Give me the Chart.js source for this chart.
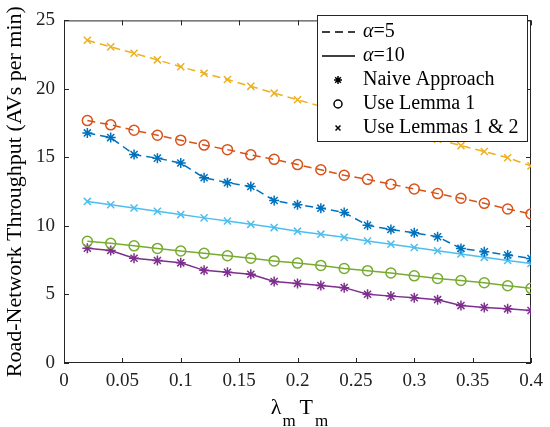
<!DOCTYPE html>
<html>
<head>
<meta charset="utf-8">
<script src="https://cdn.jsdelivr.net/npm/chart.js@4"></script>
<style>
  html, body { margin: 0; padding: 0; background: #fff; }
  #wrap { width: 550px; height: 427px; }
</style>
</head>
<body>
<div id="wrap"><canvas id="chart" width="550" height="427"></canvas></div>
<script>
// x values (lambda_m * T_m)
const xVals = [0.02, 0.04, 0.06, 0.08, 0.10, 0.12, 0.14, 0.16, 0.18, 0.20,
               0.22, 0.24, 0.26, 0.28, 0.30, 0.32, 0.34, 0.36, 0.38, 0.40];

// alpha = 5 (dashed)
const naiveA5  = [16.79, 16.45, 15.21, 14.95, 14.59, 13.52, 13.16, 12.88, 11.86, 11.55,
                  11.30, 10.98, 10.05, 9.74, 9.50, 9.21, 8.36, 8.12, 7.88, 7.62];
const lemma1A5 = [17.69, 17.38, 16.98, 16.62, 16.26, 15.90, 15.57, 15.19, 14.86, 14.48,
                  14.10, 13.70, 13.40, 13.05, 12.70, 12.36, 12.02, 11.65, 11.24, 10.88];
const lemma12A5 = [23.55, 23.07, 22.60, 22.12, 21.62, 21.14, 20.69, 20.19, 19.69, 19.21,
                   18.73, 18.26, 17.79, 17.32, 16.83, 16.33, 15.86, 15.43, 14.98, 14.38];

// alpha = 10 (solid)
const naiveA10  = [8.38, 8.21, 7.64, 7.48, 7.31, 6.76, 6.62, 6.48, 5.95, 5.81,
                   5.65, 5.50, 5.02, 4.88, 4.76, 4.62, 4.19, 4.05, 3.95, 3.83];
const lemma1A10 = [8.88, 8.74, 8.55, 8.36, 8.17, 8.00, 7.83, 7.64, 7.45, 7.29,
                   7.12, 6.90, 6.74, 6.57, 6.36, 6.17, 6.02, 5.86, 5.64, 5.45];
const lemma12A10 = [11.79, 11.55, 11.31, 11.07, 10.83, 10.59, 10.36, 10.12, 9.88, 9.62,
                    9.40, 9.17, 8.90, 8.67, 8.43, 8.19, 7.95, 7.71, 7.48, 7.26];

const xTickVals = [0, 0.05, 0.1, 0.15, 0.2, 0.25, 0.3, 0.35, 0.4];
const yTickVals = [0, 5, 10, 15, 20, 25];
const legendLabels = ["=5", "=10", "Naive Approach", "Use Lemma 1", "Use Lemmas 1 & 2"];

const SERIF = "'Liberation Serif', 'Times New Roman', serif";
const AXIS_COLOR = "#262626";

const toPts = (ys) => ys.map((y, i) => ({ x: xVals[i], y: y }));

const makeSet = (ys, color, marker, dashed) => ({
    data: toPts(ys),
    borderColor: color,
    backgroundColor: "rgba(0,0,0,0)",
    borderWidth: 1.5,
    borderDash: dashed ? [8, 5] : [],
    pointStyle: marker,
    pointRadius: 5,
    pointBorderWidth: 1.5,
    pointBorderColor: color,
    pointBackgroundColor: "rgba(0,0,0,0)",
    tension: 0,
});

// box + inward ticks on all four sides (MATLAB look)
const boxPlugin = {
    id: "box",
    beforeDatasetsDraw(chart) {
        const { ctx, chartArea: a, scales } = chart;
        ctx.save();
        ctx.strokeStyle = AXIS_COLOR;
        ctx.lineWidth = 1;
        ctx.strokeRect(a.left + 0.5, a.top + 0.5, a.right - a.left - 1, a.bottom - a.top - 1);
        ctx.beginPath();
        xTickVals.forEach((v) => {
            const px = Math.round(scales.x.getPixelForValue(v)) + 0.5;
            ctx.moveTo(px, a.bottom); ctx.lineTo(px, a.bottom - 5);
            ctx.moveTo(px, a.top); ctx.lineTo(px, a.top + 5);
        });
        yTickVals.forEach((v) => {
            const py = Math.round(scales.y.getPixelForValue(v)) + 0.5;
            ctx.moveTo(a.left, py); ctx.lineTo(a.left + 5, py);
            ctx.moveTo(a.right, py); ctx.lineTo(a.right - 5, py);
        });
        ctx.stroke();
        ctx.restore();
    },
    afterDraw(chart) {
        const { ctx, chartArea: a } = chart;
        ctx.save();
        // x axis label: lambda_m T_m
        const big = "22px " + SERIF, small = "17px " + SERIF;
        ctx.fillStyle = "#000";
        ctx.textBaseline = "alphabetic";
        ctx.textAlign = "left";
        ctx.font = big;
        const wL = ctx.measureText("λ").width, wT = ctx.measureText("T").width;
        ctx.font = small;
        const wm = ctx.measureText("m").width;
        const total = wL + 1 + wm + 4 + wT + 2 + wm;
        let x = (a.left + a.right) / 2 + 2 - total / 2;
        const base = 414;
        ctx.font = big; ctx.fillText("λ", x, base); x += wL + 1;
        ctx.font = small; ctx.fillText("m", x, base + 12); x += wm + 4;
        ctx.font = big; ctx.fillText("T", x, base); x += wT + 2;
        ctx.font = small; ctx.fillText("m", x, base + 12);

        // legend
        const lx = 317.5, ly = 15.5, lw = 210, lh = 126;
        ctx.fillStyle = "#fff";
        ctx.fillRect(lx, ly, lw, lh);
        ctx.strokeStyle = AXIS_COLOR;
        ctx.lineWidth = 1;
        ctx.strokeRect(lx, ly, lw, lh);

        const rows = [32, 56, 80, 104, 128];
        ctx.strokeStyle = "#000";
        ctx.lineWidth = 1.5;
        // dashed sample
        ctx.beginPath();
        ctx.setLineDash([8, 5]);
        ctx.moveTo(322, rows[0]); ctx.lineTo(355, rows[0]);
        ctx.stroke();
        ctx.setLineDash([]);
        ctx.beginPath();
        ctx.moveTo(322, rows[1]); ctx.lineTo(355, rows[1]);
        ctx.stroke();
        // marker samples
        const opts = { radius: 4, borderWidth: 1.5, borderColor: "#000", backgroundColor: "rgba(0,0,0,0)" };
        Chart.helpers.drawPoint(ctx, Object.assign({}, opts, { pointStyle: "star" }), 338, rows[2]);
        Chart.helpers.drawPoint(ctx, Object.assign({}, opts, { pointStyle: "circle" }), 338, rows[3]);
        Chart.helpers.drawPoint(ctx, Object.assign({}, opts, { pointStyle: "crossRot", radius: 3.5 }), 338, rows[4]);

        ctx.fillStyle = "#000";
        ctx.textBaseline = "middle";
        const tx = 363;
        [0, 1].forEach((i) => {
            ctx.font = "italic 20px " + SERIF;
            ctx.fillText("α", tx, rows[i]);
            const wa = ctx.measureText("α").width;
            ctx.font = "20px " + SERIF;
            ctx.fillText(legendLabels[i], tx + wa, rows[i]);
        });
        ctx.font = "20px " + SERIF;
        for (let i = 2; i < 5; i++) ctx.fillText(legendLabels[i], tx, rows[i]);
        ctx.restore();
    },
};

new Chart(document.getElementById("chart"), {
    type: "line",
    data: {
        datasets: [
            makeSet(lemma12A5, "#EDB120", "crossRot", true),
            makeSet(lemma1A5, "#D95319", "circle", true),
            makeSet(naiveA5, "#0072BD", "star", true),
            makeSet(lemma12A10, "#4DBEEE", "crossRot", false),
            makeSet(lemma1A10, "#77AC30", "circle", false),
            makeSet(naiveA10, "#7E2F8E", "star", false),
        ],
    },
    options: {
        responsive: false,
        animation: false,
        layout: { padding: { left: 0, top: 13, right: 19, bottom: 0 } },
        plugins: { legend: { display: false }, tooltip: { enabled: false } },
        scales: {
            x: {
                type: "linear",
                min: 0,
                max: 0.4,
                afterFit: (s) => { s.height = 64; },
                afterBuildTicks: (s) => { s.ticks = xTickVals.map((v) => ({ value: v })); },
                grid: { display: false, drawTicks: false },
                border: { display: false },
                ticks: {
                    padding: 7,
                    color: "#222",
                    font: { family: SERIF, size: 19 },
                    maxRotation: 0,
                    callback: (v) => String(v),
                },
            },
            y: {
                min: 0,
                max: 25,
                afterFit: (s) => { s.width = 64; },
                afterBuildTicks: (s) => { s.ticks = yTickVals.map((v) => ({ value: v })); },
                grid: { display: false, drawTicks: false },
                border: { display: false },
                ticks: {
                    padding: 9,
                    color: "#222",
                    font: { family: SERIF, size: 19 },
                },
                title: {
                    display: true,
                    text: "Road-Network Throughput (AVs per min)",
                    color: "#000",
                    font: { family: SERIF, size: 22 },
                    padding: { top: 2, bottom: 0 },
                },
            },
        },
    },
    plugins: [boxPlugin],
});
</script>
</body>
</html>
